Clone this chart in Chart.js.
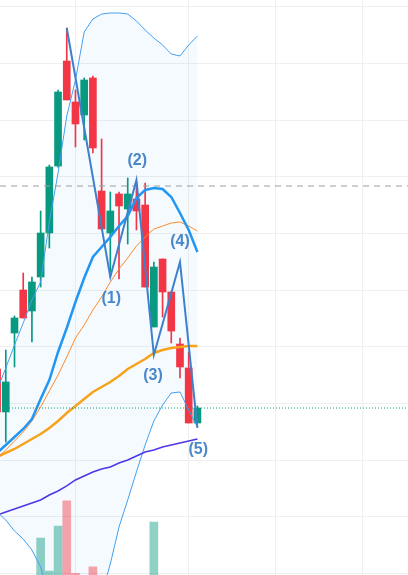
<!DOCTYPE html>
<html>
<head>
<meta charset="utf-8">
<script src="https://cdn.jsdelivr.net/npm/chart.js@4.4.1/dist/chart.umd.min.js"></script>
<style>
  html, body { margin: 0; padding: 0; background: #ffffff; }
  #wrap { width: 408px; height: 575px; position: relative; }
</style>
</head>
<body>
<div id="wrap"><canvas id="chart"></canvas></div>
<script>
// candle index 0..23 (last one is the current bar)
const opens  = [36.10, 28.52, 42.45, 50.04, 46.33, 52.33, 60.09, 71.90, 90.42, 83.19, 80.90, 87.43, 67.50, 60.09, 66.97, 64.32, 66.08, 65.03, 43.51, 55.50, 49.68, 40.51, 36.28, 26.58];
const highs  = [37.69, 39.45, 45.45, 53.03, 52.33, 63.97, 72.08, 85.31, 96.24, 85.31, 87.43, 87.78, 76.67, 67.32, 67.32, 69.79, 68.91, 68.91, 54.97, 55.50, 49.68, 41.57, 39.10, 29.58];
const lows   = [27.46, 23.23, 36.46, 45.10, 40.86, 50.56, 57.44, 71.70, 83.55, 75.26, 76.49, 74.20, 60.79, 52.33, 51.98, 58.15, 60.62, 50.56, 43.51, 45.27, 40.69, 34.51, 26.58, 26.58];
const closes = [28.52, 33.81, 45.10, 45.10, 51.45, 60.09, 71.73, 84.96, 83.55, 79.31, 87.07, 75.08, 60.79, 63.97, 64.85, 66.97, 63.97, 50.56, 54.09, 49.68, 42.80, 36.46, 26.58, 29.22];
const volumes = [14, 16, 12, 15, 17, 26.4, 20.7, 28.5, 32.9, 20.3, 18, 21.4, 17, 15, 12, 14, 13, 19, 29.2, 16, 15, 17, 19, 12];

// indicators
const bbUpper = [32.40, 36.28, 40.34, 44.22, 48.27, 51.45, 62.03, 70.67, 80.72, 87.07, 95.54, 97.83, 98.71, 98.89, 98.89, 98.71, 97.48, 95.89, 94.48, 93.25, 91.66, 91.31, 93.25, 94.83];
const bbBasis = [21.29, 22.70, 24.11, 25.52, 27.28, 30.81, 34.16, 39.10, 43.33, 47.92, 52.15, 55.86, 57.62, 59.38, 61.32, 63.09, 66.26, 67.67, 68.03, 67.85, 66.44, 63.62, 60.62, 56.74];
const bbLower = [10.88, 9.47, 7.53, 6.12, 4.18, 1.18, -4.64, -11.69, -16.10, -17.87, -16.10, -11.69, -3.76, 1.71, 8.24, 13.00, 17.94, 22.70, 26.93, 29.75, 31.87, 32.05, 28.87, 25.87];
const emaFast = [20.41, 21.82, 23.40, 24.99, 26.93, 29.40, 32.22, 35.04, 38.22, 41.57, 43.86, 46.51, 48.80, 51.45, 53.74, 55.68, 57.80, 59.38, 60.79, 61.32, 61.85, 62.03, 61.32, 60.44];
const maMid   = [20.58, 21.29, 21.99, 22.88, 23.76, 24.64, 25.70, 26.93, 28.34, 29.58, 30.81, 32.05, 32.93, 33.81, 34.87, 36.10, 36.98, 37.87, 38.93, 39.45, 39.81, 39.98, 40.16, 40.16];
const maSlow  = [10.35, 10.88, 11.41, 11.94, 12.47, 13.00, 13.88, 14.59, 15.47, 16.53, 17.23, 17.94, 18.47, 18.82, 19.52, 20.05, 20.76, 21.46, 21.82, 22.35, 22.70, 23.05, 23.40, 23.76];

// elliott wave count
const waveX = [8, 13, 16, 18, 21, 23];
const waveY = [96.24, 52.33, 69.44, 38.57, 54.97, 25.70];
const waveLabels = ['(1)', '(2)', '(3)', '(4)', '(5)'];
const waveLabelX = [13.1, 16.1, 17.9, 21.0, 23.1];
const waveLabelY = [48.6, 72.9, 34.9, 58.5, 21.8];

// reference lines
const dashedLevel = 68.38;
const lastPrice = 29.22;

const xMin = 0.335, xMax = 47.18;
const xGridTicks = [9, 22, 32, 42];
const yGridTicks = [0, 10, 20, 30, 40, 50, 60, 70, 80, 90, 100];

const UP = '#089981', DOWN = '#f23645';
const idx = opens.map((_, i) => i);
const isUp = idx.map(i => closes[i] >= opens[i]);

function series(values) {
  return values.map((v, i) => ({ x: i, y: v }));
}

const waveText = {
  id: 'waveText',
  afterDatasetsDraw(chart) {
    const { ctx, scales: { x, y } } = chart;
    ctx.save();
    ctx.font = 'bold 16px "Liberation Sans", Arial, sans-serif';
    ctx.fillStyle = '#4a88c9';
    ctx.textAlign = 'center';
    ctx.textBaseline = 'middle';
    waveLabels.forEach((t, i) => {
      ctx.fillText(t, x.getPixelForValue(waveLabelX[i]), y.getPixelForValue(waveLabelY[i]));
    });
    ctx.restore();
  }
};

const lineBase = { type: 'line', pointRadius: 0, tension: 0, fill: false };

const config = {
  type: 'bar',
  data: {
    datasets: [
      { ...lineBase, data: waveX.map((x, i) => ({ x: x, y: waveY[i] })),
        borderColor: '#3f80cc', borderWidth: 2, order: 0 },
      { ...lineBase, data: [{ x: xMin, y: dashedLevel }, { x: xMax, y: dashedLevel }],
        borderColor: '#9e9e9e', borderWidth: 1.2, borderDash: [6, 5], order: 1 },
      { ...lineBase, data: [{ x: xMin, y: lastPrice }, { x: xMax, y: lastPrice }],
        borderColor: UP, borderWidth: 1, borderDash: [1, 2], order: 1 },
      { ...lineBase, data: series(bbBasis), borderColor: '#2196f3', borderWidth: 2.5, order: 2 },
      { ...lineBase, data: series(emaFast), borderColor: '#ff8a2b', borderWidth: 1, order: 2 },
      { ...lineBase, data: series(maMid), borderColor: '#f7a21b', borderWidth: 2.5, order: 2 },
      { ...lineBase, data: series(maSlow), borderColor: '#4d36e6', borderWidth: 1.5, order: 2 },
      { ...lineBase, data: series(bbUpper), borderColor: '#42a0f0', borderWidth: 1,
        fill: '+1', backgroundColor: 'rgba(33,150,243,0.05)', order: 3 },
      { ...lineBase, data: series(bbLower), borderColor: '#42a0f0', borderWidth: 1, order: 3 },
      { type: 'bar', data: idx.map(i => ({ x: i, y: [opens[i], closes[i]] })),
        backgroundColor: isUp.map(u => u ? UP : DOWN), barThickness: 7, grouped: false, order: 4 },
      { type: 'bar', data: idx.map(i => ({ x: i, y: [lows[i], highs[i]] })),
        backgroundColor: isUp.map(u => u ? UP : DOWN), barThickness: 1, grouped: false, order: 5 },
      { type: 'bar', yAxisID: 'vol', data: idx.map(i => ({ x: i, y: volumes[i] })),
        backgroundColor: isUp.map(u => u ? 'rgba(8,153,129,0.45)' : 'rgba(242,54,69,0.45)'),
        barThickness: 8, grouped: false, order: 6 }
    ]
  },
  options: {
    responsive: true,
    maintainAspectRatio: false,
    animation: false,
    layout: { padding: 0 },
    plugins: {
      legend: { display: false },
      tooltip: { enabled: false },
      filler: { drawTime: 'beforeDatasetsDraw' }
    },
    scales: {
      x: {
        type: 'linear', min: xMin, max: xMax, offset: false,
        afterBuildTicks: s => { s.ticks = xGridTicks.map(v => ({ value: v })); },
        ticks: { display: false },
        grid: { color: '#efefef', drawTicks: false, offset: false },
        border: { display: false }
      },
      y: {
        type: 'linear', min: -0.23, max: 101.18,
        afterBuildTicks: s => { s.ticks = yGridTicks.map(v => ({ value: v })); },
        ticks: { display: false },
        grid: { color: '#efefef', drawTicks: false },
        border: { display: false }
      },
      vol: {
        type: 'linear', min: 20, max: 120, display: false
      }
    }
  },
  plugins: [waveText]
};

new Chart(document.getElementById('chart').getContext('2d'), config);
</script>
</body>
</html>
